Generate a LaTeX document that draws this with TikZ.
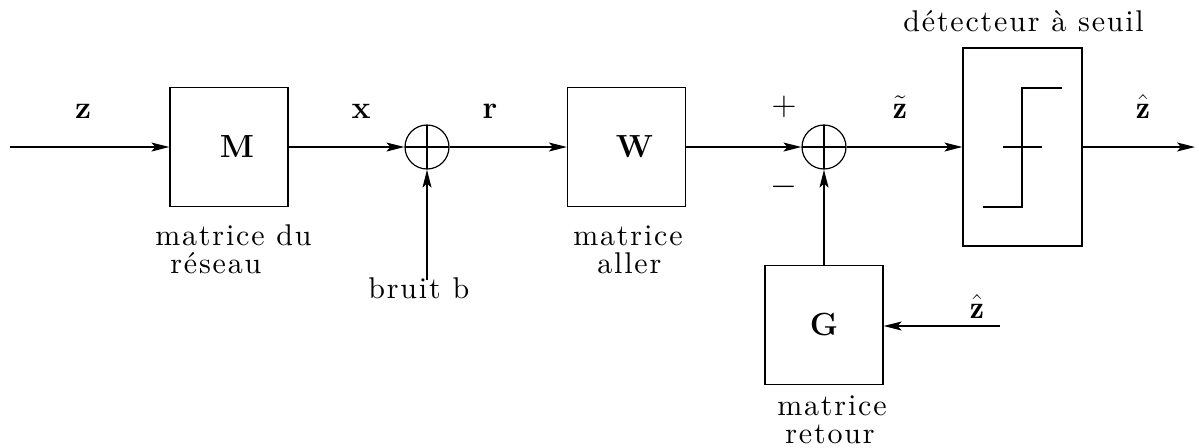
\documentclass[tikz,border=0pt]{standalone}
\usepackage{fontspec}
\usetikzlibrary{arrows.meta}
\newfontfamily\spacedfont{lmroman10-regular.otf}[LetterSpace=6]
\newcommand{\lbl}{\spacedfont\fontsize{15}{18}\selectfont}
\newcommand{\bld}{\fontsize{16}{19}\selectfont\bfseries}
\tikzset{
  arr/.style={line width=0.6pt, -{Stealth[length=9pt,width=4.5pt,inset=2pt]}},
  blk/.style={draw, line width=0.6pt, minimum width=59pt, minimum height=59.5pt, inner sep=0pt, font=\bld},
  sum/.style={draw, line width=0.6pt, circle, minimum size=22pt, inner sep=0pt,
    path picture={\draw[line width=0.6pt] (path picture bounding box.north) -- (path picture bounding box.south)
      (path picture bounding box.west) -- (path picture bounding box.east);}},
  txt/.style={anchor=base west, inner sep=0pt, font=\lbl},
  bl/.style={anchor=base, inner sep=0pt, font=\bld},
  sg/.style={inner sep=0pt, font=\fontsize{16}{19}\selectfont},
}
\begin{document}
\begin{tikzpicture}[x=0.5pt,y=-0.5pt]
\useasboundingbox (0,0) rectangle (1199,447);
% blocks
\node[blk] (M) at (229,147) {\hspace*{8pt}M};
\node[blk] (W) at (626.5,147) {\hspace*{8pt}W};
\node[blk] (G) at (824,325) {G};
\node[draw, line width=0.6pt, minimum width=59.5pt, minimum height=99pt, inner sep=0pt] (D) at (1022.5,147) {};
\node[sum] (S1) at (427,147) {};
\node[sum] (S2) at (824,147) {};
% step characteristic
\draw[line width=0.6pt] (983,207) -| (1022,88) -- (1062,88);
\draw[line width=0.6pt] (1003,147) -- (1042,147);
% connectors
\coordinate (in) at (10,147);
\coordinate (b) at (427,280);
\coordinate (out) at (1195,147);
\coordinate (fb) at (1000,326);
\draw[arr] (in) -- (M.west);
\draw[arr] (M.east) -- (S1.west);
\draw[arr] (b) -- (S1.south);
\draw[arr] (S1.east) -- (W.west);
\draw[arr] (W.east) -- (S2.west);
\draw[arr] (G.north) -- (S2.south);
\draw[arr] (S2.east) -- (D.west);
\draw[arr] (D.east) -- (out);
\draw[arr] (fb) -- (G.east |- fb);
% signal labels
\node[bl] (lz) at (83,118) {z};
\node[bl] (lx) at (361,118) {x};
\node[bl] (lr) at (490,118) {r};
\node[bl] (lzt) at (900,118) {$\tilde{\mathbf{z}}$};
\node[bl] (lzh) at (1143,118) {$\hat{\mathbf{z}}$};
\node[bl] (lzf) at (977,318) {$\hat{\mathbf{z}}$};
\node[sg] (plus) at (784,107) {$+$};
\node[sg] (minus) at (784,187) {$-$};
% descriptive texts
\node[txt] (t1) at (155,245) {matrice du};
\node[txt] (t2) at (170,273) {réseau};
\node[txt] (t3) at (368,298) {bruit b};
\node[txt] (t4) at (573,245) {matrice};
\node[txt] (t5) at (597,273) {aller};
\node[txt] (t6) at (903,31) {détecteur à seuil};
\node[txt] (t7) at (777,415) {matrice};
\node[txt] (t8) at (785,443) {retour};
\end{tikzpicture}
\end{document}
